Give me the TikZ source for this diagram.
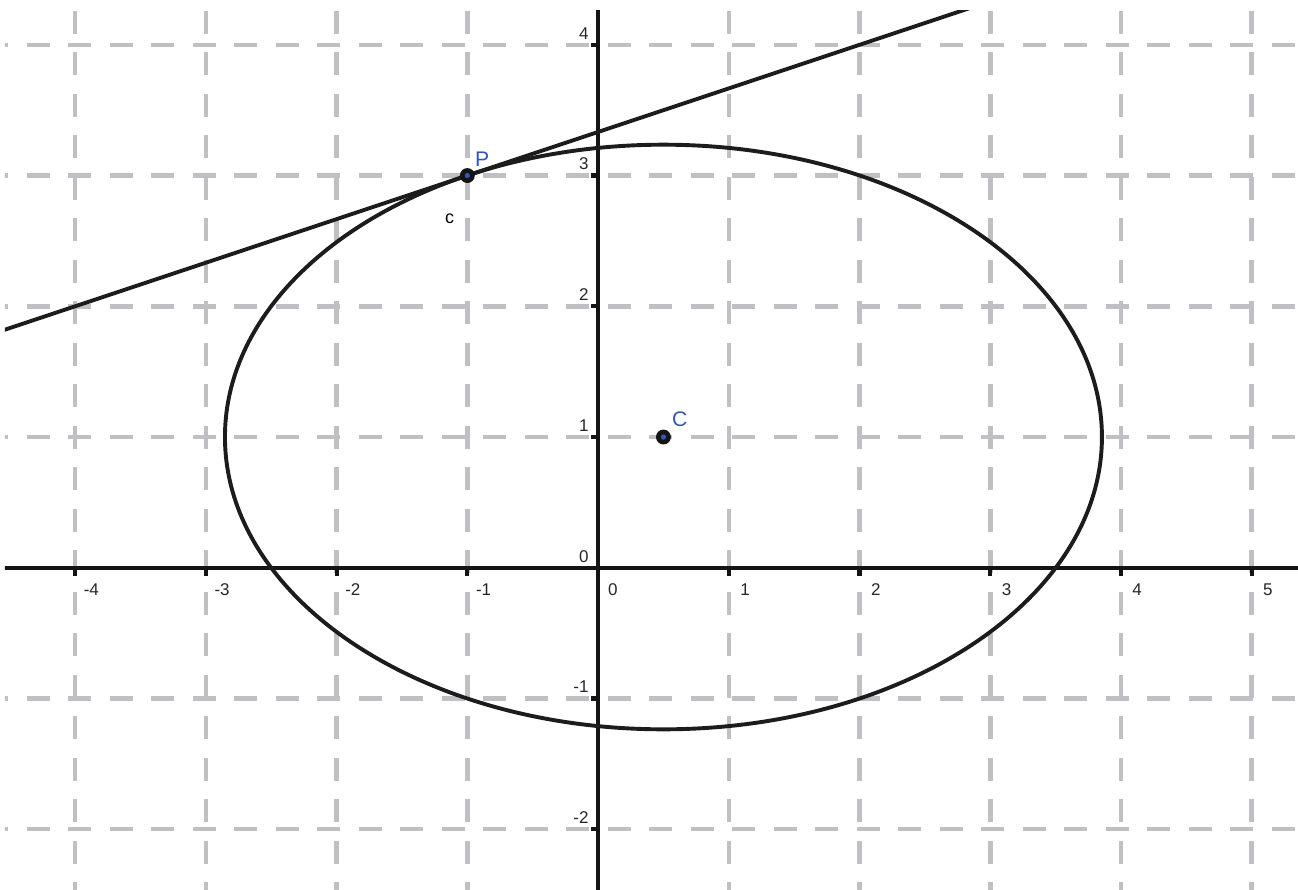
\documentclass[tikz,border=0pt]{standalone}
\usepackage{fontspec}
\setmainfont{Liberation Sans}
\usetikzlibrary{calc}
\definecolor{gridgray}{RGB}{192,192,196}
\definecolor{ptblue}{RGB}{52,86,184}
\definecolor{curvecol}{RGB}{28,28,28}
\begin{document}
\begin{tikzpicture}[x=1cm,y=1cm,
  gridline/.style={draw=gridgray, line width=1pt, dash pattern=on 5pt off 4.03pt},
  axisline/.style={draw=black!92, line width=0.9pt},
  curveline/.style={draw=curvecol, line width=0.85pt},
  ticklab/.style={font=\fontsize{3.7}{4}\selectfont, inner sep=0pt, text=black!85},
  ptlab/.style={font=\fontsize{4.6}{5}\selectfont, text=ptblue, inner sep=0pt, anchor=base west},
]
\useasboundingbox (-4.575,-2.458) rectangle (5.354,4.343);
\coordinate (P) at (-1,3);
\coordinate (C) at (0.5,1);
\begin{scope}
\clip (-4.537,-2.458) rectangle (5.354,4.259);
% grid
\foreach \y in {-2,-1,1,2,3,4} \draw[gridline] (-4.686,\y) -- (5.6,\y);
\foreach \x in {-4,-3,-2,-1,1,2,3,4,5} \draw[gridline] (\x,4.259) -- (\x,-2.7);
% axes
\draw[axisline] (-4.7,0) -- (5.5,0);
\draw[axisline] (0,4.4) -- (0,-2.6);
\foreach \x in {-4,-3,-2,-1,1,2,3,4,5} \draw[axisline] (\x,0) -- (\x,-0.061);
\foreach \y in {-2,-1,1,2,3,4} \draw[axisline] (0,\y) -- (-0.055,\y);
% ellipse
\draw[curveline] (C) ellipse [x radius=3.3541, y radius=2.2361];
% tangent line at P
\path (P) ++(-4.5,-1.5) coordinate (tL);
\path (P) ++(4.5,1.5) coordinate (tR);
\draw[curveline] (tL) -- (P) -- (tR);
\end{scope}
% tick labels
\foreach \x in {-4,-3,-2,-1,1,2,3,4,5}
  \node[ticklab, anchor=north] at (\x+0.124,-0.117) {\x};
\node[ticklab, anchor=north] (x0) at (0.112,-0.117) {0};
\foreach \y in {-2,-1,0,1,2,3,4}
  \node[ticklab, anchor=south east] at (-0.066,\y+0.035) {\y};
% points
\fill[black!92] (P) circle (0.057);
\fill[ptblue] (P) circle (0.02);
\fill[black!92] (C) circle (0.057);
\fill[ptblue] (C) circle (0.02);
% labels
\node[ptlab] (Plab) at (-0.947,3.073) {P};
\node[ptlab] (Clab) at (0.56,1.084) {C};
\node[font=\fontsize{3.9}{4}\selectfont, inner sep=0pt, anchor=base west] (clab) at (-1.178,2.635) {c};
\end{tikzpicture}
\end{document}
